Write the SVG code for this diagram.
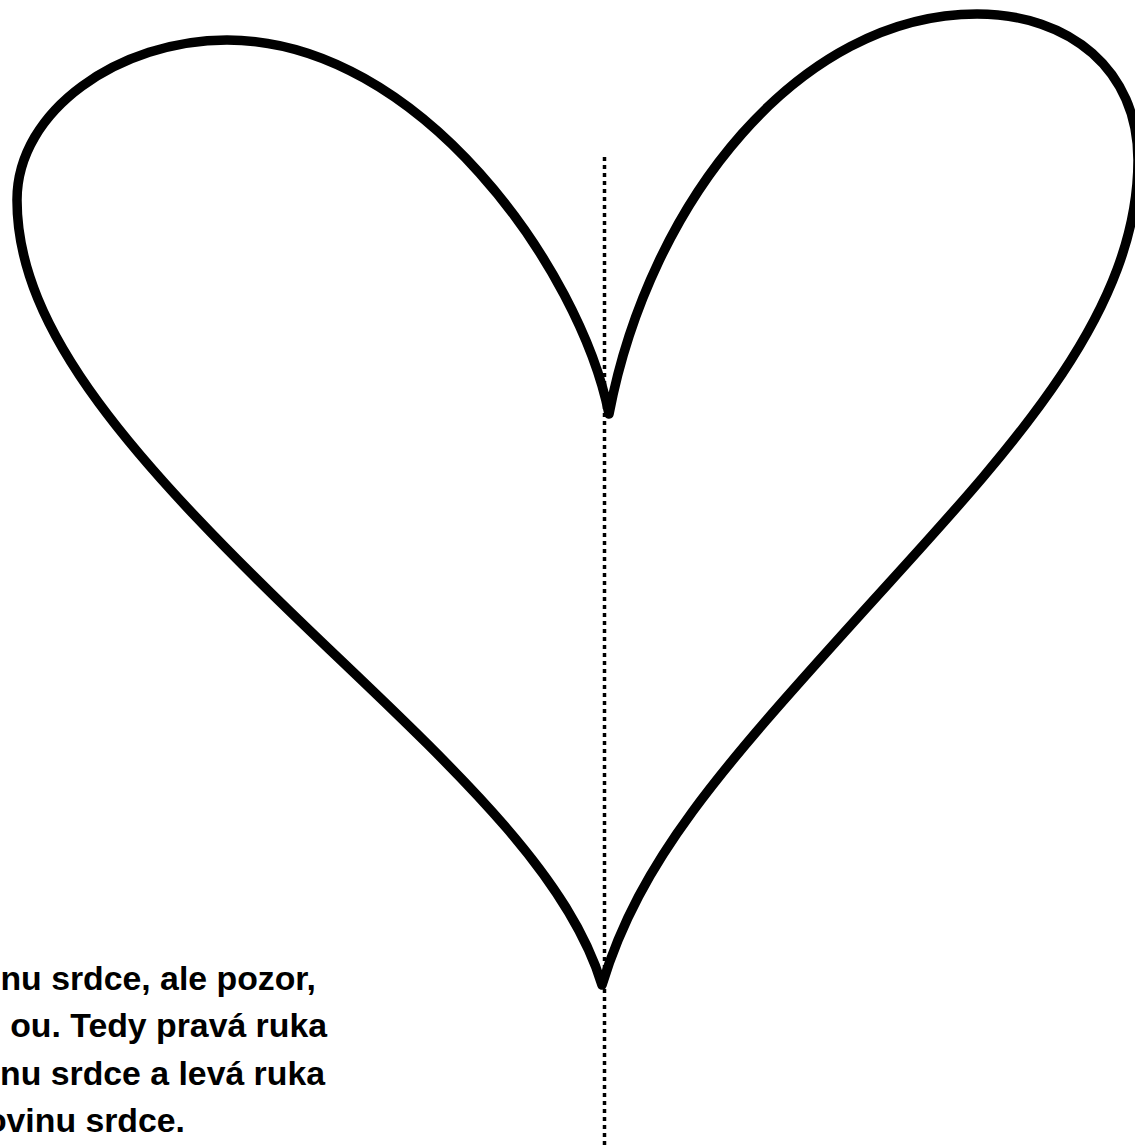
<svg xmlns="http://www.w3.org/2000/svg" width="1135" height="1146" viewBox="0 0 1135 1146">
<style>
.heart{fill:none;stroke:#000;stroke-width:9.5;stroke-linejoin:round;stroke-linecap:round}
.axis{fill:none;stroke:#000;stroke-width:3.5;stroke-dasharray:4 4}
.txt{font-family:"Liberation Sans",Arial,sans-serif;font-weight:bold;font-size:33.8px;fill:#000;text-anchor:end}
</style>
<rect width="1135" height="1146" fill="#fff"/>
<g id="connectors">
<line class="axis" x1="604.5" y1="157" x2="604.5" y2="1146"/>
</g>
<g id="heart">
<path class="heart" d="M609 414 C580 270 420 40 227 40 C120 40 17 110 17 200 C17 330 130 460 330 650 C470 783 570 880 602 985 C640 860 720 770 860 615 C1000 460 1138 320 1138 160 C1138 70 1070 14 977 14 C800 14 650 200 609 414 Z"/>
</g>
<g id="caption">
<text class="txt" x="316" y="990">nu srdce, ale pozor,</text>
<text class="txt" x="327" y="1037">ou. Tedy pravá ruka</text>
<text class="txt" x="325" y="1085">nu srdce a levá ruka</text>
<text class="txt" x="185" y="1132">ovinu srdce.</text>
</g>
</svg>
